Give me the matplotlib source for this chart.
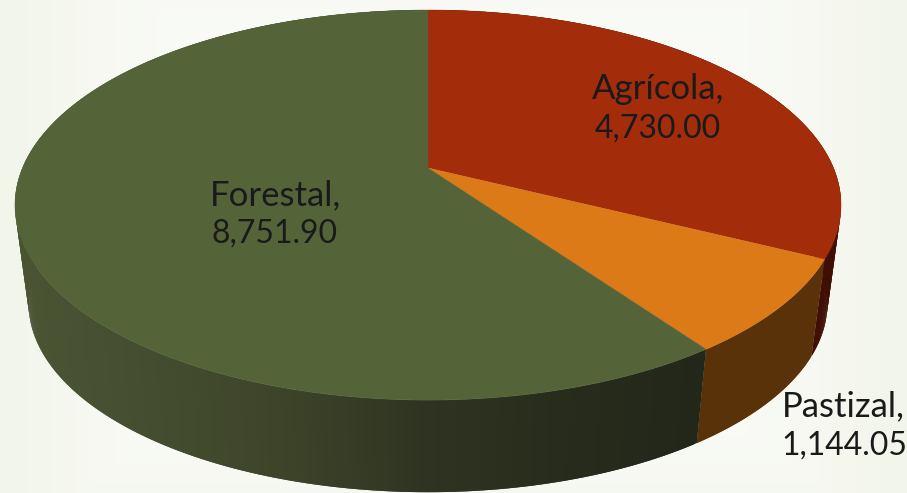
import numpy as np
import matplotlib
matplotlib.use("Agg")
import matplotlib.pyplot as plt
from matplotlib.collections import PolyCollection
from matplotlib.colors import to_rgb

# ======================================
# Data
# ======================================

categories = ["Agrícola", "Pastizal", "Forestal"]
values = [4730.00, 1144.05, 8751.90]
value_labels = ["4,730.00", "1,144.05", "8,751.90"]

# ======================================
# Style
# ======================================

top_colors = ["#a32c0b", "#db7a16", "#556339"]
# side wall colour stops along x, per slice
shade_x = [30, 200, 300, 428, 560, 700]
side_shades = [
    ["#3f0e05"] * 6,
    ["#5a3209"] * 6,
    ["#4a5433", "#424a2e", "#3c4228", "#2f3422", "#272c1c", "#22271a"],
]
name_pos = [(658, 89), (843, 406), (276, 195)]
value_pos = [(658, 129), (844, 446), (275, 234)]

plt.rcParams["font.family"] = ["Lato", "DejaVu Sans"]

W, H = 907, 493
CX = 428
APEX_Y = 168
C = 0.19
B = -156.1
A = 405.5
VANISH_Y = 3190
BOTTOM_SCALE = 0.967


def project(theta):
    # theta is clockwise from the top of the pie, perspective view
    u, v = np.sin(theta), np.cos(theta)
    w = 1 + C * v
    return CX + A * u / w, (APEX_Y + B * v) / w


def lower(x, y):
    return CX + (x - CX) * BOTTOM_SCALE, VANISH_Y + (y - VANISH_Y) * BOTTOM_SCALE


fig = plt.figure(figsize=(W / 100, H / 100), dpi=100)
ax = fig.add_axes([0, 0, 1, 1])

# ======================================
# Background
# ======================================

gy, gx = np.mgrid[0:1:60j, 0:1:110j]
dist = np.clip(np.maximum(np.abs(gx - 0.5) * 2, np.abs(gy - 0.45) * 1.5) ** 3, 0, 1)
inner = np.array(to_rgb("#fbfcf9"))
outer = np.array(to_rgb("#f2f5ea"))
bg = inner + (outer - inner) * dist[..., None]
ax.imshow(bg, extent=(0, W, H, 0), aspect="auto", interpolation="bilinear", zorder=0)

ax.set_xlim(0, W)
ax.set_ylim(H, 0)
ax.axis("off")

# ======================================
# Slices
# ======================================

edges = np.concatenate([[0], np.cumsum(values)]) / np.sum(values) * 2 * np.pi

for i in range(len(values)):
    t = np.linspace(edges[i], edges[i + 1], max(int((edges[i + 1] - edges[i]) * 120), 8))
    x, y = project(t)
    xb, yb = lower(x, y)
    stops = np.array([to_rgb(c) for c in side_shades[i]])

    # side wall strips, each overlaps the next so no seams show
    quads = []
    cols = []
    for j in range(len(t) - 1):
        k = min(j + 2, len(t) - 1)
        quads.append([(x[j], y[j]), (x[k], y[k]), (xb[k], yb[k]), (xb[j], yb[j])])
        cols.append([np.interp(x[j], shade_x, stops[:, n]) for n in range(3)])
    ax.add_collection(PolyCollection(quads, facecolors=cols, edgecolors="none", zorder=2))

for i in range(len(values)):
    t = np.linspace(edges[i], edges[i + 1], 300)
    x, y = project(t)
    px = np.concatenate([[CX], x])
    py = np.concatenate([[APEX_Y], y])
    ax.fill(px, py, color=top_colors[i], lw=0.3, zorder=3)

# ======================================
# Labels
# ======================================

for name, val, p1, p2 in zip(categories, value_labels, name_pos, value_pos):
    ax.text(p1[0], p1[1], name + ",", ha="center", va="center",
            fontsize=25, color="#1a1a1a", zorder=4)
    ax.text(p2[0], p2[1], val, ha="center", va="center",
            fontsize=23, color="#1a1a1a", zorder=4)

fig.savefig("out.png", dpi=100)
